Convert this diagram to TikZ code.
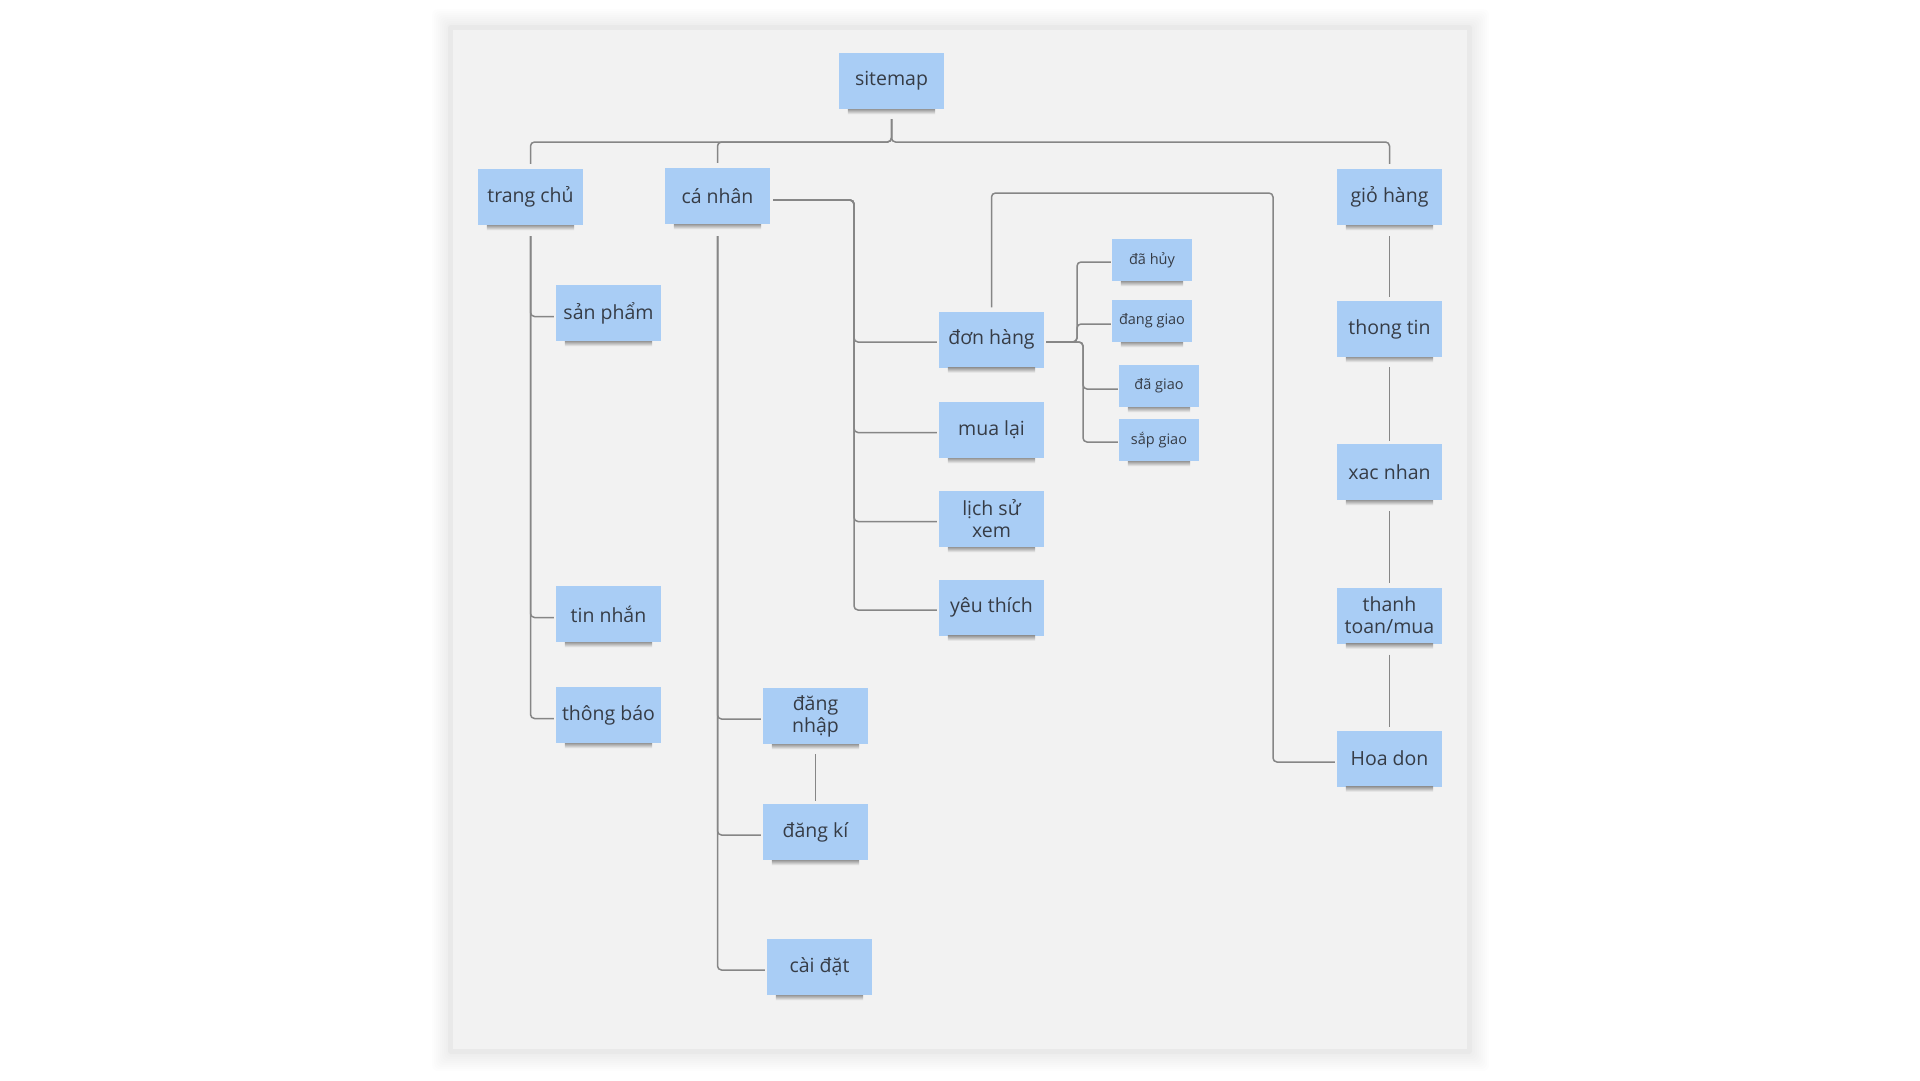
\documentclass[tikz,border=0pt]{standalone}
\usepackage{fontspec}
\setmainfont{Open Sans}
\definecolor{nodeblue}{HTML}{A9CDF5}
\definecolor{txtc}{HTML}{363C46}
\definecolor{linec}{HTML}{868686}
\definecolor{panelc}{HTML}{F2F2F2}
\definecolor{panelrim}{HTML}{E9E9E9}
\definecolor{shadowc}{HTML}{9A9A9A}
\begin{document}
\begin{tikzpicture}[x=1pt,y=-1pt,
  card/.style={fill=nodeblue, text=txtc, minimum width=105pt, minimum height=56pt, inner sep=2pt, align=center,
    font=\fontsize{19.5}{22}\selectfont},
  smallcard/.style={card, minimum width=80pt, minimum height=42pt, font=\fontsize{14.5}{17}\selectfont},
  cardshadow/.style={top color=shadowc, bottom color=panelc},
  conn/.style={draw=linec, line width=1.5pt, rounded corners=4pt}
]
\useasboundingbox (0,0) rectangle (1920,1080);
\fill[white] (0,0) rectangle (1920,1080);
% panel shadow
\foreach \i in {1,...,8}{
  \fill[black, opacity=0.006, rounded corners=6pt] (448-2*\i,25-2*\i) rectangle (1473+2*\i,1055+2*\i);
}
\fill[panelrim, rounded corners=3pt] (448,25) rectangle (1472,1054);
\fill[panelc] (453,30) rectangle (1467,1049);

% nodes
\node[card] (sm) at (891.5,81) {sitemap};
\node[card] (tc) at (530.5,197) {trang chủ};
\node[card] (cn) at (717.5,196) {cá nhân};
\node[card] (gh) at (1389.5,197) {giỏ hàng};
\node[card] (sp) at (608.5,313) {sản phẩm};
\node[card] (tn) at (608.5,614) {tin nhắn};
\node[card] (tb) at (608.5,715) {thông báo};
\node[card] (dh) at (991.5,339.5) {đơn hàng};
\node[card] (ml) at (991.5,430) {mua lại};
\node[card] (ls) at (991.5,519) {lịch sử\\xem};
\node[card] (yt) at (991.5,607.5) {yêu thích};
\node[card] (dn) at (815.5,716) {đăng\\nhập};
\node[card] (dk) at (815.5,832) {đăng kí};
\node[card] (cd) at (819.5,967) {cài đặt};
\node[smallcard] (dhuy) at (1152,260) {đã hủy};
\node[smallcard] (dg) at (1152,321) {đang giao};
\node[smallcard] (dgi) at (1159,386) {đã giao};
\node[smallcard] (sg) at (1159,440) {sắp giao};
\node[card] (tt) at (1389.5,329) {thong tin};
\node[card] (xn) at (1389.5,472) {xac nhan};
\node[card] (ttm) at (1389.5,615.5) {thanh\\toan/mua};
\node[card] (hd) at (1389.5,758.5) {Hoa don};

% card shadows (soft strip under each card)
\foreach \n in {sm,tc,cn,gh,sp,tn,tb,dh,ml,ls,yt,dn,dk,cd,dhuy,dg,dgi,sg,tt,xn,ttm,hd}{
  \fill[cardshadow] ([xshift=9pt]\n.south west) rectangle ([xshift=-9pt,yshift=-5pt]\n.south east);
}

% junction coordinates
\coordinate (bus) at (891.5,142);
\coordinate (cnR) at (854,200);
\coordinate (dhA) at (1077,342);
\coordinate (dhB) at (1083,342);
\coordinate (loopTR) at (1273,193);

% sitemap to top level
\draw[conn] ([yshift=-10pt]sm.south) -- (bus) -| ([yshift=5pt]tc.north);
\draw[conn] ([yshift=-10pt]sm.south) -- (bus) -| ([yshift=5pt]cn.north);
\draw[conn] ([yshift=-10pt]sm.south) -- (bus) -| ([yshift=5pt]gh.north);

% trang chu
\foreach \t in {sp,tn,tb}{
  \draw[conn] ([yshift=-11pt]tc.south) |- ([xshift=-2pt,yshift=-3.5pt]\t.west);
}
% ca nhan bottom
\foreach \t in {dn,dk,cd}{
  \draw[conn] ([yshift=-12pt]cn.south) |- ([xshift=-2pt,yshift=-3pt]\t.west);
}
% ca nhan right
\foreach \t in {dh,ml,ls,yt}{
  \draw[conn] ([xshift=3pt,yshift=-4pt]cn.east) -- (cnR) |- ([xshift=-2pt,yshift=-2.5pt]\t.west);
}
% dang nhap - dang ki
\draw[conn] ([yshift=-10pt]dn.south) -- ([yshift=3pt]dk.north);

% don hang sub-states
\draw[conn] ([xshift=2pt,yshift=-2.5pt]dh.east) -- (dhA) |- ([xshift=-1pt,yshift=-2pt]dhuy.west);
\draw[conn] ([xshift=2pt,yshift=-2.5pt]dh.east) -- (dhA) |- ([xshift=-1pt,yshift=-3pt]dg.west);
\draw[conn] ([xshift=2pt,yshift=-2.5pt]dh.east) -- (dhB) |- ([xshift=-1pt,yshift=-3pt]dgi.west);
\draw[conn] ([xshift=2pt,yshift=-2.5pt]dh.east) -- (dhB) |- ([xshift=-1pt,yshift=-2pt]sg.west);

% don hang to hoa don
\draw[conn] ([yshift=4pt]dh.north) |- (loopTR) |- ([xshift=-2pt,yshift=-3.5pt]hd.west);

% gio hang chain
\draw[conn] ([yshift=-11pt]gh.south) -- ([yshift=4pt]tt.north);
\draw[conn] ([yshift=-10pt]tt.south) -- ([yshift=3pt]xn.north);
\draw[conn] ([yshift=-11pt]xn.south) -- ([yshift=4pt]ttm.north);
\draw[conn] ([yshift=-11pt]ttm.south) -- ([yshift=3pt]hd.north);
\end{tikzpicture}
\end{document}
